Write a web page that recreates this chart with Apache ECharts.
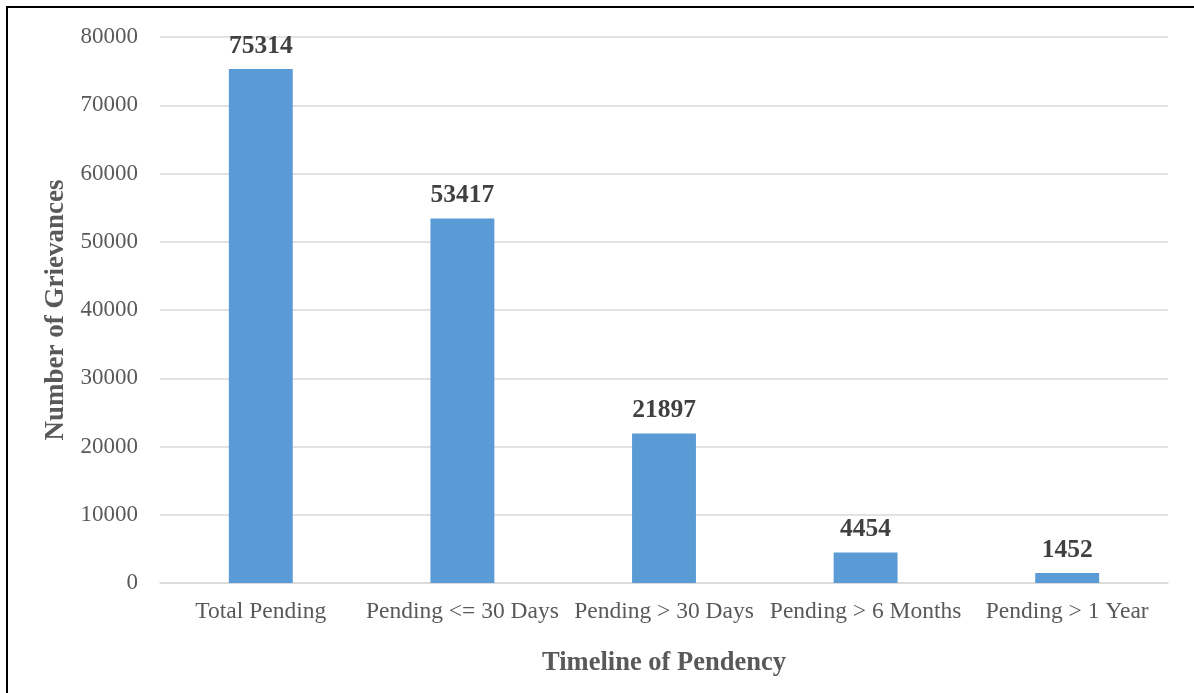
<!DOCTYPE html>
<html>
<head>
<meta charset="utf-8">
<script src="https://cdn.jsdelivr.net/npm/echarts@6/dist/echarts.min.js"></script>
<style>
  html, body { margin: 0; padding: 0; background: #fff; overflow: hidden; }
  #frame { position: absolute; left: 6px; top: 6px; width: 1300px; height: 800px;
           border-left: 2px solid #000; border-top: 2px solid #000; box-sizing: border-box; }
  #chart { position: absolute; left: 0; top: 0; width: 1194px; height: 693px; }
</style>
</head>
<body>
<div id="frame"></div>
<div id="chart"></div>
<script>
const categories = ['Total Pending', 'Pending <= 30 Days', 'Pending > 30 Days', 'Pending > 6 Months', 'Pending > 1 Year'];
const grievances = [75314, 53417, 21897, 4454, 1452];
const yTicks = { min: 0, max: 80000, interval: 10000 };

const serif = '"Liberation Serif", "Times New Roman", serif';
const chart = echarts.init(document.getElementById('chart'), null, { renderer: 'canvas' });

chart.setOption({
  animation: false,
  backgroundColor: 'transparent',
  grid: { left: 160, right: 26, top: 37, bottom: 110, containLabel: false },
  xAxis: {
    type: 'category',
    data: categories,
    axisTick: { show: false },
    axisLine: { lineStyle: { color: '#D9D9D9', width: 1.5 } },
    axisLabel: { color: '#595959', fontFamily: serif, fontSize: 23.5, margin: 17, interval: 0 },
    name: 'Timeline of Pendency',
    nameLocation: 'middle',
    nameGap: 67,
    nameTextStyle: { color: '#595959', fontFamily: serif, fontSize: 26.5, fontWeight: 'bold' }
  },
  yAxis: {
    type: 'value',
    min: yTicks.min,
    max: yTicks.max,
    interval: yTicks.interval,
    axisLine: { show: false },
    axisTick: { show: false },
    splitLine: { lineStyle: { color: '#D9D9D9', width: 1.5 } },
    axisLabel: { color: '#595959', fontFamily: serif, fontSize: 23, margin: 22, formatter: v => String(v) },
    name: 'Number of Grievances',
    nameLocation: 'middle',
    nameGap: 90,
    nameMoveOverlap: false,
    nameTextStyle: { color: '#595959', fontFamily: serif, fontSize: 27, fontWeight: 'bold' }
  },
  series: [{
    type: 'bar',
    data: grievances,
    barWidth: '31.7%',
    itemStyle: { color: '#5B9BD5' },
    label: {
      show: true,
      position: 'top',
      distance: 10,
      color: '#404040',
      fontFamily: serif,
      fontSize: 25.5,
      fontWeight: 'bold'
    }
  }]
});
</script>
</body>
</html>
